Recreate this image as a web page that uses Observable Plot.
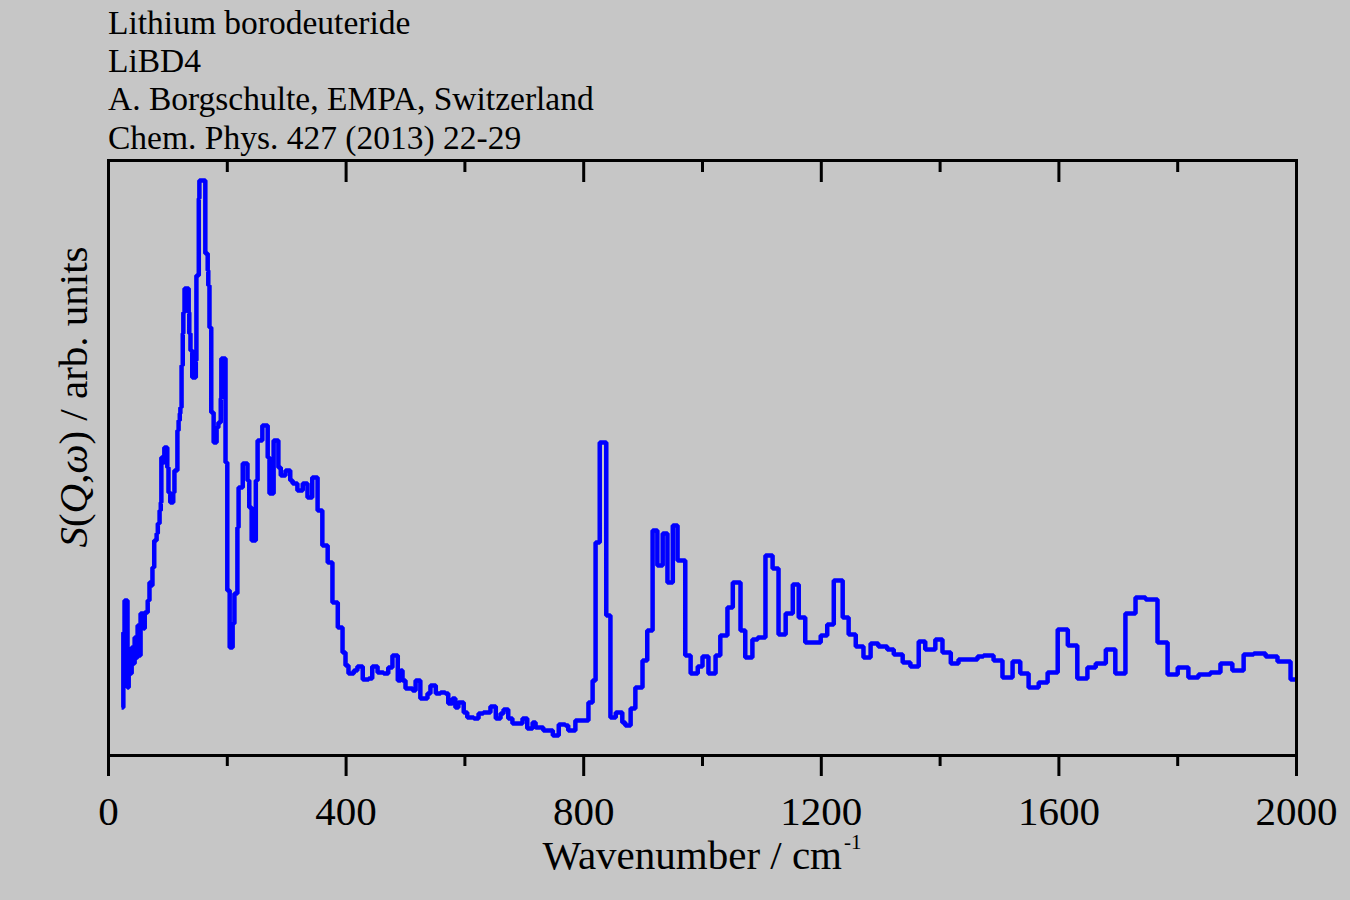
<!DOCTYPE html>
<html>
<head>
<meta charset="utf-8">
<script src="https://cdn.jsdelivr.net/npm/d3@7"></script>
<script src="https://cdn.jsdelivr.net/npm/@observablehq/plot@0.6"></script>
<style>
  html, body { margin: 0; padding: 0; background: #c6c6c6; }
  #wrap { position: relative; width: 1350px; height: 900px; overflow: hidden; background: #c6c6c6; font-family: "Liberation Serif", "Times New Roman", serif; color: #000; }
  #title { position: absolute; left: 108px; top: 4px; font-size: 33.5px; line-height: 38.2px; white-space: nowrap; }
  #xlab { position: absolute; left: 702px; top: 835px; transform: translateX(-50%); font-size: 41px; line-height: 41px; white-space: nowrap; }
  #xlab sup { font-size: 21px; position: relative; top: -20px; vertical-align: baseline; margin-left: 2px; line-height: 0; }
  #ylab { position: absolute; left: 0; top: 0; transform-origin: 0 0; transform: translate(87px, 397px) rotate(-90deg) translate(-50%, -34px); font-size: 41px; line-height: 41px; white-space: nowrap; }
  svg { display: block; }
</style>
</head>
<body>
<div id="wrap">
  <div id="chart"></div>
  <div id="title">Lithium borodeuteride<br>LiBD4<br>A. Borgschulte, EMPA, Switzerland<br>Chem. Phys. 427 (2013) 22-29</div>
  <div id="xlab">Wavenumber / cm<sup>-1</sup></div>
  <div id="ylab"><i>S</i>(<i>Q</i>,<i>ω</i>) / arb. units</div>
</div>
<script>
// Bin start wavenumbers (cm-1) of the step spectrum
const wavenumber = [
  22, 25, 27, 32, 34, 37, 39, 42, 44, 47,
  49, 52, 54, 59, 61, 66, 69, 72, 74, 77,
  81, 83, 86, 88, 89, 93, 94, 99, 101, 104,
  109, 111, 116, 118, 120, 121, 123, 125, 126, 128,
  135, 136, 138, 141, 147, 148, 152, 153, 163, 167,
  168, 170, 173, 177, 182, 185, 189, 190, 197, 200,
  204, 209, 212, 217, 219, 226, 234, 237, 241, 248,
  251, 259, 268, 271, 278, 286, 290, 298, 306, 310,
  318, 327, 335, 343, 352, 360, 369, 377, 386, 394,
  399, 404, 413, 419, 428, 438, 444, 453, 463, 471,
  478, 487, 492, 495, 500, 512, 517, 525, 537, 542,
  551, 559, 567, 572, 579, 584, 589, 598, 604, 615,
  623, 631, 643, 652, 660, 665, 673, 680, 697, 705,
  714, 719, 732, 748, 758, 769, 774, 786, 808, 815,
  820, 827, 838, 845, 854, 865, 870, 879, 887, 899,
  907, 916, 924, 933, 941, 950, 958, 971, 980, 992,
  1000, 1010, 1022, 1030, 1042, 1051, 1064, 1072, 1084, 1093,
  1106, 1118, 1128, 1140, 1152, 1162, 1173, 1199, 1210, 1221,
  1236, 1246, 1258, 1271, 1283, 1296, 1311, 1322, 1337, 1350,
  1364, 1375, 1392, 1404, 1418, 1431, 1463, 1473, 1490, 1505,
  1522, 1535, 1549, 1566, 1581, 1598, 1615, 1631, 1648, 1662,
  1679, 1695, 1712, 1729, 1746, 1766, 1783, 1800, 1818, 1835,
  1855, 1872, 1892, 1911, 1928, 1948, 1968, 1990, 2000
];
// S(Q,w) in arbitrary units
const intensity = [
  9.6, 24.6, 31.0, 13.6, 21.0, 16.4, 21.6, 18.4, 23.6, 19.6,
  26.0, 20.0, 28.4, 25.4, 28.6, 31.0, 34.6, 34.0, 37.6, 43.0,
  44.4, 46.4, 49.0, 50.6, 59.6, 58.6, 61.6, 57.6, 52.6, 50.6,
  52.6, 57.0, 65.0, 67.0, 68.4, 69.6, 78.0, 84.4, 88.6, 93.4,
  88.6, 84.4, 81.0, 75.6, 79.0, 96.0, 111.4, 115.0, 100.4, 97.0,
  94.0, 85.6, 68.6, 62.6, 65.6, 66.6, 71.4, 79.4, 58.6, 33.0,
  21.6, 26.4, 32.4, 45.6, 53.6, 58.4, 55.0, 49.6, 43.0, 55.0,
  63.0, 66.0, 59.6, 52.4, 63.0, 57.6, 56.0, 57.0, 55.0, 54.4,
  53.0, 54.4, 51.6, 55.6, 49.0, 42.0, 38.6, 30.6, 25.6, 20.6,
  18.0, 16.4, 17.0, 17.8, 15.2, 15.4, 17.8, 16.6, 16.4, 17.6,
  20.0, 15.0, 17.0, 15.0, 13.4, 13.0, 15.0, 11.4, 12.4, 14.0,
  12.4, 12.6, 12.4, 10.4, 11.4, 9.6, 10.6, 8.6, 7.6, 7.4,
  8.4, 8.6, 9.8, 7.4, 8.4, 9.2, 7.4, 6.4, 7.4, 5.4,
  6.6, 5.6, 5.0, 4.0, 6.2, 6.0, 5.0, 7.0, 10.6, 15.0,
  42.6, 62.6, 28.0, 7.6, 8.6, 6.6, 6.0, 9.4, 13.6, 19.0,
  25.0, 45.0, 38.0, 44.4, 34.6, 46.0, 39.0, 20.0, 16.4, 17.8,
  19.8, 16.4, 20.0, 24.0, 29.6, 34.6, 25.0, 19.6, 23.2, 23.6,
  40.0, 37.4, 24.2, 28.4, 34.2, 27.6, 22.6, 24.0, 26.2, 35.0,
  27.6, 24.2, 21.8, 19.6, 22.4, 21.8, 21.2, 20.2, 18.6, 17.8,
  22.8, 21.2, 23.2, 20.6, 18.4, 19.2, 19.8, 20.0, 19.0, 15.6,
  18.8, 16.4, 13.6, 14.6, 16.6, 25.2, 22.0, 15.4, 17.6, 18.4,
  21.2, 16.4, 28.4, 31.6, 31.2, 22.6, 16.2, 17.6, 15.6, 16.2,
  16.6, 18.4, 17.0, 20.2, 20.4, 19.8, 18.8, 15.2, 15.2
];
const majorTicks = [0, 400, 800, 1200, 1600, 2000];
const minorTicks = [200, 600, 1000, 1400, 1800];

const n = Math.min(wavenumber.length, intensity.length);
const data = d3.range(n).map(i => ({wn: wavenumber[i], s: intensity[i]}));

const font = "'Liberation Serif', 'Times New Roman', serif";
const chart = Plot.plot({
  width: 1350,
  height: 900,
  marginLeft: 108,
  marginRight: 54,
  marginTop: 160,
  marginBottom: 145,
  style: {background: "#c6c6c6", fontFamily: font, fontSize: "41px", color: "#000", overflow: "visible"},
  x: {domain: [0, 2000], label: null},
  y: {domain: [0, 119], axis: null, label: null},
  marks: [
    Plot.line(data, {x: "wn", y: "s", curve: "step-after", stroke: "#0000ff", strokeWidth: 4.5, strokeLinejoin: "miter", strokeLinecap: "butt"}),
    Plot.axisX({anchor: "bottom", ticks: majorTicks, tickSize: 21, tickPadding: 19, strokeWidth: 3, tickFormat: d => String(d), fontSize: 41, fontFamily: font, label: null}),
    Plot.axisX({anchor: "bottom", ticks: minorTicks, tickSize: 11, strokeWidth: 3, text: null, label: null}),
    Plot.axisX({anchor: "top", ticks: majorTicks, tickSize: -21, strokeWidth: 3, text: null, label: null}),
    Plot.axisX({anchor: "top", ticks: minorTicks, tickSize: -11, strokeWidth: 3, text: null, label: null}),
    Plot.frame({stroke: "#000", strokeWidth: 3})
  ]
});
document.getElementById("chart").appendChild(chart);
</script>
</body>
</html>
